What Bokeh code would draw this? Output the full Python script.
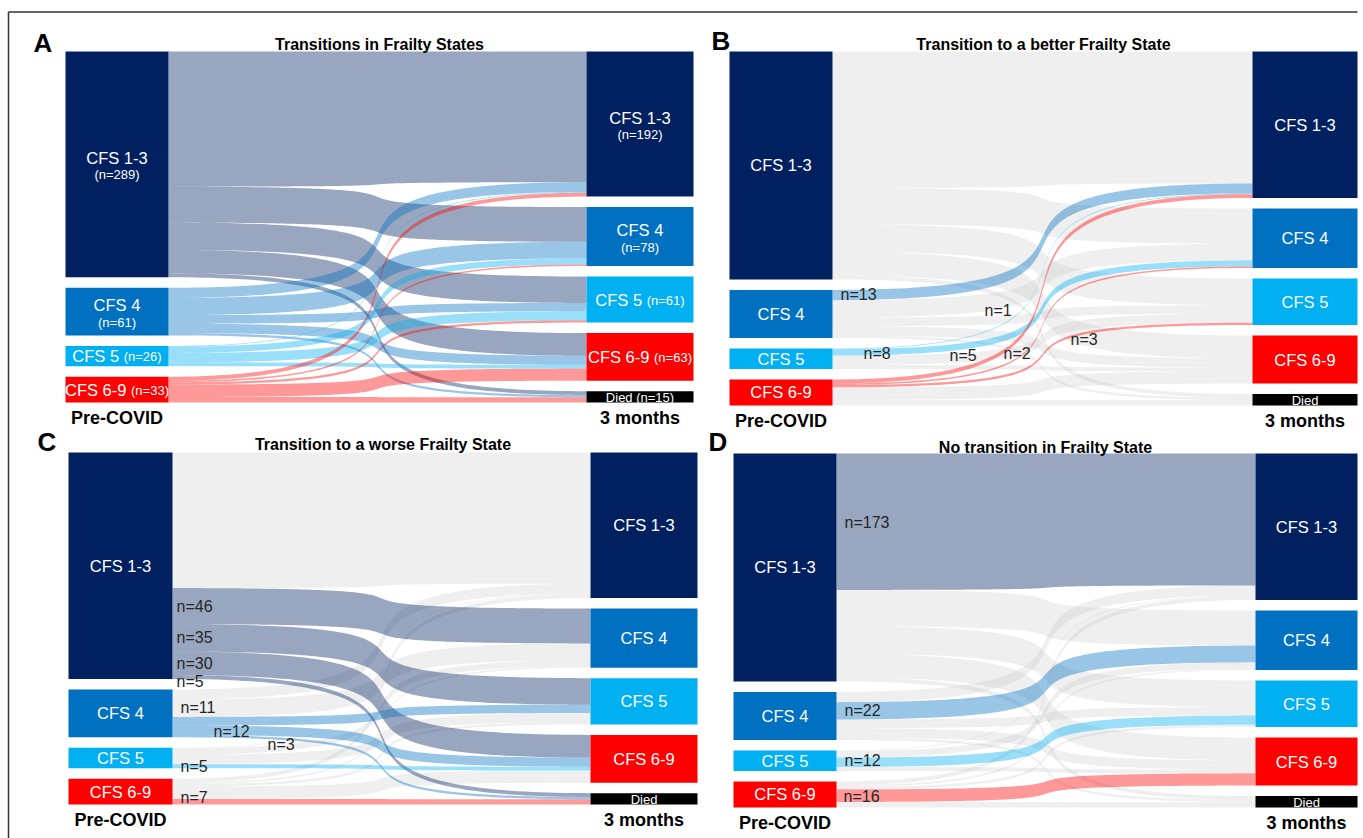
import numpy as np
from bokeh.plotting import figure
from bokeh.models import Range1d
from bokeh.embed import file_html
from bokeh.resources import INLINE
from bokeh.core.properties import value

# ---------------------------------------------------------------- data
pre_labels = ["CFS 1-3", "CFS 4", "CFS 5", "CFS 6-9"]
post_labels = ["CFS 1-3", "CFS 4", "CFS 5", "CFS 6-9", "Died"]
pre_n = [289, 61, 26, 33]
post_n = [192, 78, 61, 63, 15]

# patients moving from each pre-COVID state to each 3-month state
# (entries follow post_labels)
from_cfs_1_3 = [173, 46, 35, 30, 5]
from_cfs_4 = [13, 22, 11, 12, 3]
from_cfs_5 = [1, 8, 12, 5, 0]
from_cfs_6_9 = [5, 2, 3, 16, 7]

panel_letters = ["A", "B", "C", "D"]
panel_titles = [
    "Transitions in Frailty States",
    "Transition to a better Frailty State",
    "Transition to a worse Frailty State",
    "No transition in Frailty State",
]
left_caption = "Pre-COVID"
right_caption = "3 months"

flows = np.array([from_cfs_1_3, from_cfs_4, from_cfs_5, from_cfs_6_9])

# ---------------------------------------------------------------- style
FONT = value("Liberation Sans")
state_colors = ["#002060", "#0070C0", "#00B0F0", "#FF0000", "#000000"]
GREY_LINK = "#BFBFBF"
GAP = 10.5
CURVE = 0.88

# per-panel placement: node columns, vertical span, letter / title anchors,
# which links are highlighted and where their "n=" labels sit
panels = [
    dict(lx=(65, 168), rx=(586, 693), span=(51, 402), letter=(33, 42),
         title_y=43.5, mode="all", notes={}),
    dict(lx=(729, 832), rx=(1252, 1357), span=(51, 405), letter=(711, 40),
         title_y=43.5, mode="better",
         notes={(1, 0): (8, -1), (2, 0): (152, -38), (2, 1): (31, 1),
                (3, 0): (117, -26), (3, 1): (171, -31), (3, 2): (238, -47)}),
    dict(lx=(68, 172), rx=(590, 697), span=(452, 804), letter=(37, 441.5),
         title_y=443.5, mode="worse",
         notes={(0, 1): (4, 0), (0, 2): (4, 0), (0, 3): (4, 0), (0, 4): (4, 4),
                (1, 2): (8, -14), (1, 3): (41, 1), (1, 4): (95, 8),
                (2, 3): (8, 0), (3, 4): (8, -4)}),
    dict(lx=(733, 836), rx=(1255, 1357), span=(453, 807), letter=(708, 441.5),
         title_y=446.5, mode="same",
         notes={(0, 0): (8, 1), (1, 1): (8, 0), (2, 2): (8, -2), (3, 3): (7, 1)}),
]

# Arial / Liberation Sans advance widths (em) for centring mixed-size labels
ADV = {"C": 0.722, "F": 0.611, "S": 0.667, " ": 0.278, "-": 0.333, "(": 0.333,
       ")": 0.333, "n": 0.556, "=": 0.584, "D": 0.722, "i": 0.222, "e": 0.556,
       "d": 0.556}


def text_width(s, size):
    return sum(ADV.get(ch, 0.556) for ch in s) * size


def column(counts, top, bottom):
    scale = (bottom - top - GAP * (len(counts) - 1)) / sum(counts)
    tops, y = [], top
    for c in counts:
        tops.append(y)
        y += c * scale + GAP
    return scale, tops


def edge(xa, ya, xb, yb, n=120):
    t = np.linspace(0, 1, n)
    dx = xb - xa
    p1, p2 = xa + CURVE * dx, xb - CURVE * dx
    x = (1 - t) ** 3 * xa + 3 * (1 - t) ** 2 * t * p1 + 3 * (1 - t) * t ** 2 * p2 + t ** 3 * xb
    y = ((1 - t) ** 3 + 3 * (1 - t) ** 2 * t) * ya + (3 * (1 - t) * t ** 2 + t ** 3) * yb
    return x, y


def highlighted(mode, i, j):
    if mode == "all":
        return True
    if mode == "better":
        return j < i
    if mode == "worse":
        return j > i
    return j == i


def label(x, y, txt, size, color="white", align="center", bold=False):
    p.text(x=[x], y=[y], text=[txt], text_font=FONT, text_font_size=value(size),
           text_color=color, text_align=align, text_baseline="middle",
           text_font_style="bold" if bold else "normal")


p = figure(width=1363, height=838, x_range=Range1d(0, 1363), y_range=Range1d(838, 0),
           x_axis_type=None, y_axis_type=None, toolbar_location=None,
           output_backend="svg", min_border=0, outline_line_color=None)
p.background_fill_color = "white"
p.border_fill_color = "white"

# outer frame
p.segment(x0=[8, 8], y0=[11.5, 11.5], x1=[1357, 8], y1=[11.5, 838],
          line_color="#333333", line_width=1.5)

for k, pan in enumerate(panels):
    top, bottom = pan["span"]
    lx0, lx1 = pan["lx"]
    rx0, rx1 = pan["rx"]
    ls, ltops = column(pre_n, top, bottom)
    rs, rtops = column(post_n, top, bottom)

    src = list(ltops)
    tgt = list(rtops)
    grey_xs, grey_ys = [], []
    hot_xs, hot_ys, hot_col = [], [], []
    centres = {}
    for i in range(len(pre_n)):
        for j in range(len(post_n)):
            v = flows[i, j]
            if v == 0:
                continue
            a0, a1 = src[i], src[i] + v * ls
            b0, b1 = tgt[j], tgt[j] + v * rs
            src[i], tgt[j] = a1, b1
            xt, yt = edge(lx1, a0, rx0, b0)
            xb, yb = edge(lx1, a1, rx0, b1)
            xs = np.concatenate([xt, xb[::-1]]).tolist()
            ys = np.concatenate([yt, yb[::-1]]).tolist()
            centres[(i, j)] = (a0 + a1) / 2
            if highlighted(pan["mode"], i, j):
                hot_xs.append(xs)
                hot_ys.append(ys)
                hot_col.append(state_colors[i])
            else:
                grey_xs.append(xs)
                grey_ys.append(ys)

    if grey_xs:
        p.patches(xs=grey_xs, ys=grey_ys, fill_color=GREY_LINK, fill_alpha=0.25,
                  line_color=None)
    for xs, ys, col in zip(hot_xs, hot_ys, hot_col):
        p.patch(xs, ys, fill_color=col, fill_alpha=0.4, line_color=None)

    # nodes
    lh = [c * ls for c in pre_n]
    rh = [c * rs for c in post_n]
    p.quad(left=lx0, right=lx1, top=ltops, bottom=[t + h for t, h in zip(ltops, lh)],
           fill_color=state_colors[:4], line_color=None)
    p.quad(left=rx0, right=rx1, top=rtops, bottom=[t + h for t, h in zip(rtops, rh)],
           fill_color=state_colors, line_color=None)

    # node labels
    for labels, counts, tops, hs, (x0, x1) in (
            (pre_labels, pre_n, ltops, lh, pan["lx"]),
            (post_labels, post_n, rtops, rh, pan["rx"])):
        cx = (x0 + x1) / 2
        for idx, (lab, cnt, t, h) in enumerate(zip(labels, counts, tops, hs)):
            cy = t + h / 2
            sub = "(n=%d)" % cnt
            if lab == "Died":
                txt = "%s %s" % (lab, sub) if pan["mode"] == "all" else lab
                label(cx, cy + 0.5, txt, "13px")
            elif pan["mode"] != "all":
                label(cx, cy, lab, "16.5px")
            elif idx < 2:
                label(cx, cy - 6.5, lab, "16.5px")
                label(cx, cy + 10.5, sub, "13px")
            else:
                wm = text_width(lab, 16.5)
                sp = text_width(" ", 16.5)
                ws = text_width(sub, 13)
                start = cx - (wm + sp + ws) / 2
                label(start, cy, lab, "16.5px", align="left")
                label(start + wm + sp, cy + 0.5, sub, "13px", align="left")

    # "n=" annotations on highlighted links
    for (i, j), (dx, dy) in pan["notes"].items():
        label(lx1 + dx, centres[(i, j)] + dy, "n=%d" % flows[i, j], "16px",
              color="#262626", align="left")

    # captions under the columns
    label((lx0 + lx1) / 2, bottom + 15.5, left_caption, "18px", color="black", bold=True)
    label((rx0 + rx1) / 2, bottom + 15.5, right_caption, "18px", color="black", bold=True)

    # title and panel letter
    label((lx0 + rx1) / 2, pan["title_y"], panel_titles[k], "16px", color="black", bold=True)
    label(pan["letter"][0], pan["letter"][1], panel_letters[k], "26px", color="black",
          align="left", bold=True)

open("out.html", "w").write(file_html(p, INLINE))
